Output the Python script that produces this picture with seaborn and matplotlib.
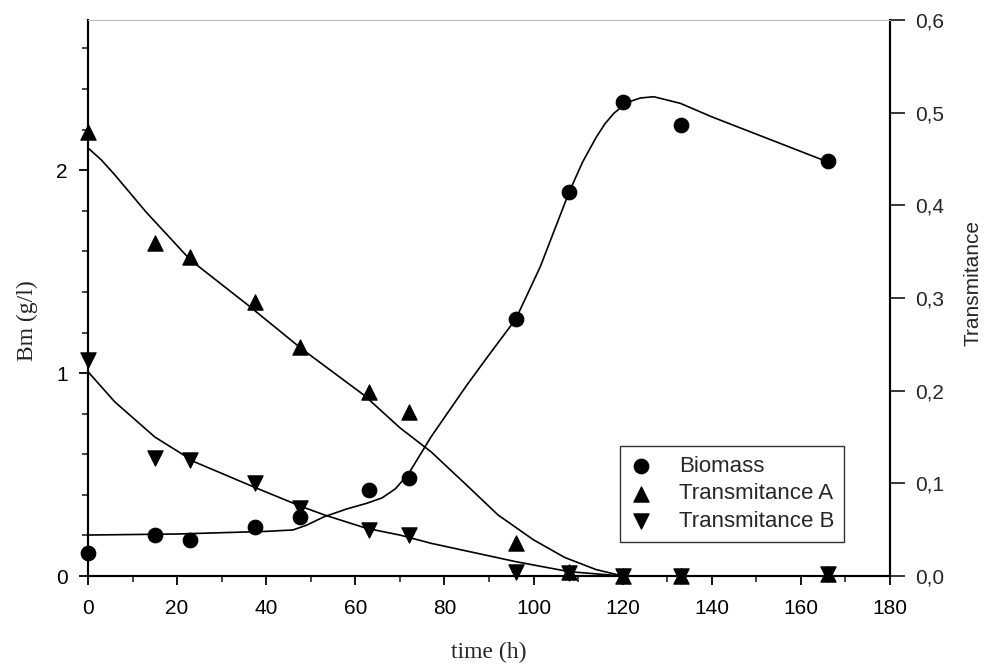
import numpy as np
import pandas as pd
import matplotlib
matplotlib.use("Agg")
import matplotlib.pyplot as plt
import seaborn as sns
from matplotlib.ticker import MultipleLocator

# measured points
time_h = [0, 15, 23, 37.5, 47.5, 63, 72, 96, 108, 120, 133, 166]
biomass = [0.113, 0.202, 0.177, 0.241, 0.291, 0.424, 0.483, 1.266, 1.892, 2.335, 2.222, 2.044]
trans_a = [0.479, 0.359, 0.344, 0.296, 0.247, 0.199, 0.177, 0.036, 0.004, 0.0, 0.0, 0.002]
trans_b = [0.233, 0.127, 0.125, 0.100, 0.073, 0.050, 0.044, 0.004, 0.003, 0.0, 0.0, 0.002]

# fitted curves
bm_fit_t = [0, 20, 40, 46, 49, 53, 58, 62.5, 66, 69, 72, 77, 85, 90, 96, 101.5, 108, 111, 114, 116, 118,
            121, 124, 127, 133, 140, 166]
bm_fit_v = [0.202, 0.207, 0.220, 0.227, 0.250, 0.292, 0.330, 0.358, 0.385, 0.430, 0.506, 0.686, 0.940,
            1.090, 1.266, 1.524, 1.893, 2.040, 2.160, 2.228, 2.280, 2.334, 2.356, 2.362, 2.329, 2.263, 2.041]

a_fit_t = [0, 3, 6, 13, 23, 36, 48, 62, 70, 77, 85, 92, 100, 107, 114, 120]
a_fit_v = [0.462, 0.449, 0.433, 0.393, 0.341, 0.292, 0.245, 0.195, 0.160, 0.134, 0.098, 0.066, 0.039, 0.020, 0.007, 0.0]

b_fit_t = [0, 6, 15, 24, 38, 48, 53, 62.5, 70, 77, 96, 108, 120]
b_fit_v = [0.2205, 0.188, 0.150, 0.123, 0.0945, 0.0748, 0.066, 0.0515, 0.0442, 0.0353, 0.0155, 0.0047, 0.0]

right_ticks = [0, 0.1, 0.2, 0.3, 0.4, 0.5, 0.6]
right_tick_labels = ["0,0", "0,1", "0,2", "0,3", "0,4", "0,5", "0,6"]

sns.set_style("ticks")
plt.rcParams['font.family'] = ['Liberation Sans', 'DejaVu Sans']

fig = plt.figure(figsize=(9.92, 6.68), dpi=100)
ax = fig.add_axes([0.0887, 0.1377, 0.8085, 0.8323])
ax2 = ax.twinx()

sns.lineplot(x=bm_fit_t, y=bm_fit_v, ax=ax, color='black', lw=1.2)
sns.scatterplot(x=time_h, y=biomass, ax=ax, marker='o', s=110, color='black',
                edgecolor='black', clip_on=False, zorder=5, label='Biomass')

sns.lineplot(x=a_fit_t, y=a_fit_v, ax=ax2, color='black', lw=1.2)
sns.lineplot(x=b_fit_t, y=b_fit_v, ax=ax2, color='black', lw=1.2)
sns.scatterplot(x=time_h, y=trans_a, ax=ax2, marker='^', s=120, color='black',
                edgecolor='black', clip_on=False, zorder=5, label='Transmitance A')
sns.scatterplot(x=time_h, y=trans_b, ax=ax2, marker='v', s=120, color='black',
                edgecolor='black', clip_on=False, zorder=5, label='Transmitance B')

h1, l1 = ax.get_legend_handles_labels()
h2, l2 = ax2.get_legend_handles_labels()
ax.get_legend().remove()
ax2.get_legend().remove()
leg = ax2.legend(h1 + h2, l1 + l2, loc='lower left', bbox_to_anchor=(0.663, 0.061),
                 frameon=True, fancybox=False, edgecolor='black', fontsize=16,
                 handlelength=1.0, handletextpad=1.2, labelspacing=0.3,
                 borderpad=0.45, borderaxespad=0)
leg.get_frame().set_linewidth(1.0)

# axes limits and ticks
ax.set_xlim(0, 180)
ax.set_xticks(np.arange(0, 181, 20))
ax.xaxis.set_minor_locator(MultipleLocator(10))
ax.set_ylim(0, 2.74)
ax.set_yticks([0, 1, 2])
ax.yaxis.set_minor_locator(MultipleLocator(0.2))
ax2.set_ylim(0, 0.6)
ax2.set_yticks(right_ticks)
ax2.set_yticklabels(right_tick_labels)

ax.tick_params(axis='both', which='major', direction='out', length=6.5, width=1.3,
               labelsize=15, pad=8, colors='black')
ax.tick_params(axis='x', which='major', pad=10)
ax.tick_params(axis='both', which='minor', direction='out', length=4, width=1.2)
ax2.tick_params(axis='y', which='major', direction='out', length=11, width=1.3,
                labelsize=15, pad=7)

for a in (ax, ax2):
    for side in ['left', 'right', 'bottom']:
        a.spines[side].set_linewidth(1.5)
        a.spines[side].set_color('black')
    a.spines['top'].set_linewidth(0.7)
    a.spines['top'].set_color('#bbbbbb')

ax.set_xlabel('time (h)', family=['Liberation Serif', 'DejaVu Serif'], fontsize=17)
ax.xaxis.set_label_coords(0.5, -0.119)
ax.set_ylabel('Bm (g/l)', family=['Liberation Serif', 'DejaVu Serif'], fontsize=17)
ax.yaxis.set_label_coords(-0.062, 0.46)
ax2.set_ylabel('Transmitance', fontsize=15, rotation=90)
ax2.yaxis.set_label_coords(1.091, 0.527)

fig.savefig('out.png', dpi=100)
